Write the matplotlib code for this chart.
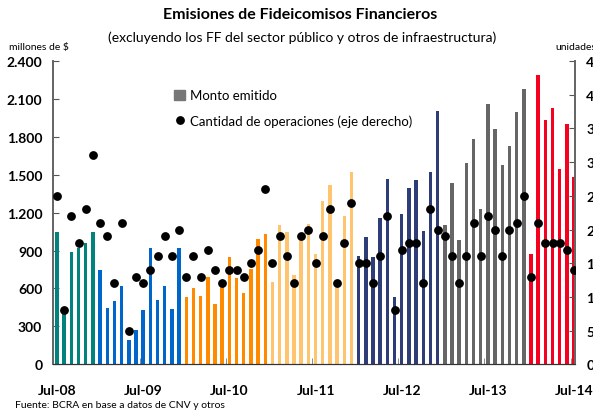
import matplotlib
matplotlib.use("Agg")
from matplotlib import pyplot as plt
from matplotlib.patches import Patch
from matplotlib.lines import Line2D
import numpy as np

plt.rcParams['font.family'] = ['Lato', 'DejaVu Sans']

# Monto emitido (millones de $), Jul-08 .. Jul-14
monto_2008 = [1045, 410, 886, 918, 957, 1044]
monto_2009 = [744, 444, 500, 618, 192, 271, 429, 918, 508, 618, 437, 918]
monto_2010 = [531, 602, 539, 689, 476, 621, 847, 681, 563, 752, 989, 1028]
monto_2011 = [650, 1099, 1044, 705, 1000, 1107, 871, 1289, 1415, 621, 1170, 1525]
monto_2012 = [855, 1007, 847, 1155, 1470, 531, 1186, 1399, 1462, 1052, 1525, 2007]
monto_2013 = [1099, 1431, 981, 1596, 1786, 1226, 2062, 1865, 1581, 1731, 1999, 2180]
monto_2014 = [871, 2291, 1936, 2030, 1549, 1904, 1486]

# Cantidad de operaciones (unidades, eje derecho)
operaciones = [25, 8, 22, 18, 23, 31,
               21, 19, 12, 21, 5, 13, 12, 14, 16, 19, 16, 20,
               13, 16, 13, 17, 14, 12, 14, 14, 13, 15, 17, 26,
               15, 19, 16, 12, 19, 20, 15, 19, 23, 12, 18, 24,
               15, 15, 12, 16, 22, 8, 17, 18, 18, 12, 23, 20,
               19, 16, 12, 16, 21, 16, 22, 20, 16, 20, 21, 25,
               13, 21, 18, 18, 18, 17, 14]

year_colors = ['#00837c', '#0066cc', '#ff8a00', '#ffc46e', '#2e3c78', '#666666', '#f5001e']
tick_labels = ['Jul-08', 'Jul-09', 'Jul-10', 'Jul-11', 'Jul-12', 'Jul-13', 'Jul-14']

groups = [monto_2008, monto_2009, monto_2010, monto_2011, monto_2012, monto_2013, monto_2014]
monto = np.concatenate(groups)
colors = np.concatenate([[c] * len(g) for c, g in zip(year_colors, groups)])
x = np.arange(len(monto))

fig = plt.figure(figsize=(5.93, 4.14), dpi=100)
ax = fig.add_axes([0.090, 0.1176, 0.880, 0.7326])
ax2 = ax.twinx()

ax.bar(x, monto, width=0.48, color=colors, zorder=2)
ax2.plot(x, operaciones, 'o', color='black', ms=5.3, zorder=3)

ax.set_xlim(-0.5, 72.15)
ax.set_ylim(0, 2400)
ax2.set_ylim(0, 45)

ax.set_yticks(np.arange(0, 2401, 300))
ax.set_yticklabels([f'{v:,}'.replace(',', '.') for v in range(0, 2401, 300)],
                   fontweight='bold', fontsize=10)
ax2.set_yticks(np.arange(0, 46, 5))
ax2.set_yticklabels([str(v) for v in range(0, 46, 5)], fontweight='bold', fontsize=10)

ax.set_xticks(np.arange(0, 73, 12))
ax.set_xticklabels(tick_labels, fontweight='bold', fontsize=10)
ax.set_xticks(np.arange(-0.5, 72, 12), minor=True)
ax.tick_params(axis='x', which='major', length=0, pad=14)
ax.tick_params(axis='x', which='minor', direction='in', length=4, color='#777777')
ax.tick_params(axis='y', direction='in', length=4, color='#555555', pad=8)
ax2.tick_params(axis='y', direction='in', length=4, color='#555555', pad=8)

for a in (ax, ax2):
    a.spines['top'].set_visible(False)
    a.spines['left'].set_color('#666666')
    a.spines['right'].set_color('#666666')
    a.spines['bottom'].set_color('#333333')
    a.spines['left'].set_linewidth(1.3)
    a.spines['right'].set_linewidth(1.3)

fig.text(0.506, 0.963, 'Emisiones de Fideicomisos Financieros', ha='center', va='center',
         fontsize=11.5, fontweight='bold')
fig.text(0.51, 0.908, '(excluyendo los FF del sector público y otros de infraestructura)',
         ha='center', va='center', fontsize=10)
fig.text(0.016, 0.885, 'millones de $', ha='left', va='center', fontsize=7.5)
fig.text(0.936, 0.885, 'unidades', ha='left', va='center', fontsize=7.5)
fig.text(0.026, 0.01, 'Fuente: BCRA en base a datos de CNV y otros', ha='left', va='bottom',
         fontsize=7.5)

handles = [Patch(color='#777777'),
           Line2D([], [], marker='o', ls='none', color='black', ms=5.3)]
ax.legend(handles, ['Monto emitido', 'Cantidad de operaciones (eje derecho)'],
          loc='upper left', bbox_to_anchor=(0.285, 0.795), bbox_transform=fig.transFigure,
          frameon=False, fontsize=9.5, handlelength=0.8, handleheight=0.8,
          handletextpad=0.4, labelspacing=1.0, borderaxespad=0)

fig.savefig('out.png', dpi=100)
